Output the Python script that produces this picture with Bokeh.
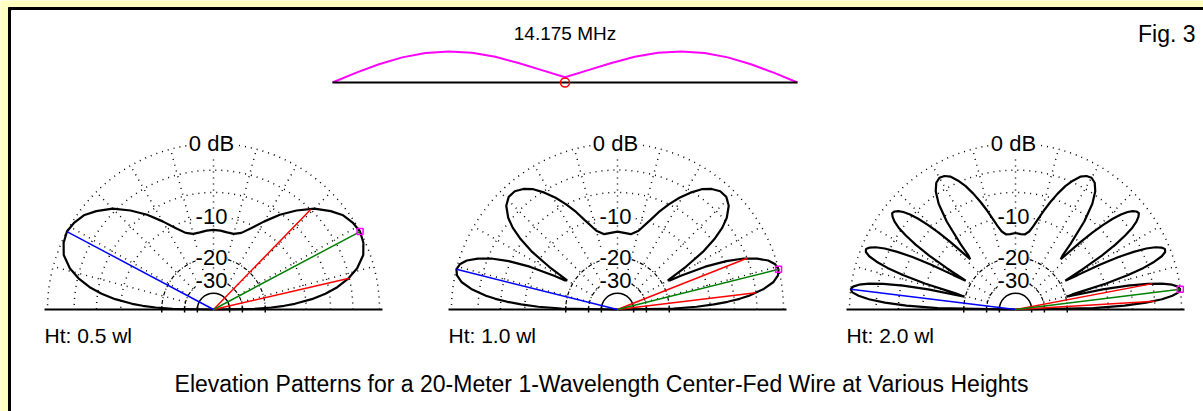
import numpy as np
from bokeh.plotting import figure
from bokeh.models import Range1d, ColumnDataSource, LabelSet
from bokeh.core.properties import value
from bokeh.embed import file_html
from bokeh.resources import INLINE

# ---------------- data ----------------
height_labels = ["Ht: 0.5 wl", "Ht: 1.0 wl", "Ht: 2.0 wl"]
freq_label = "14.175 MHz"
fig_label = "Fig. 3"
title_text = "Elevation Patterns for a 20-Meter 1-Wavelength Center-Fed Wire at Various Heights"

# grid rings (dB) and labelled rings
ring_db = [0, -3, -6, -10, -20, -30, -40]
tick_db = [-20, -30, -40]
ring_label_db = [0, -10, -20, -30]
ring_label_txt = ["0 dB", "-10", "-20", "-30"]
spoke_deg = [15, 30, 45, 60, 75, 90, 105, 120, 135, 150, 165]

# elevation patterns, 0..90 deg (pattern is symmetric about 90 deg), normalised dB
ang_05 = [0, 1, 2, 3, 4, 6, 8, 10, 13, 16, 20, 24, 28, 32, 36, 40, 45, 50, 55, 60,
          65, 70, 75, 80, 85, 90]
db_05 = [-99, -24.0, -18.1, -14.6, -12.2, -8.9, -6.6, -4.9, -3.1, -1.8, -0.7, -0.2, 0.0,
         -0.2, -0.6, -1.4, -2.6, -4.3, -6.2, -8.4, -10.5, -12.2, -12.9, -12.9, -12.7, -12.6]

ang_10 = [0, 1, 2, 3, 4, 5, 6, 8, 10, 12, 14, 16, 18, 20, 22, 24, 26, 28, 29, 30, 31,
          32, 34, 36, 38, 40, 43, 46, 49, 52, 55, 58, 61, 64, 67, 70, 75, 80, 85, 90]
db_10 = [-99, -18.6, -12.7, -9.3, -7.0, -5.2, -3.9, -2.0, -0.8, -0.2, 0.0, -0.2, -0.8,
         -1.9, -3.4, -5.7, -9.1, -14.4, -17.5, -18.0, -15.3, -12.4, -8.2, -5.6, -3.8,
         -2.6, -1.5, -1.0, -1.0, -1.4, -2.1, -3.2, -4.5, -6.0, -7.7, -9.6, -12.2, -13.3,
         -13.2, -13.0]

ang_20 = [0, 1, 2, 3, 4, 5, 6, 7, 8, 9, 10, 11, 12, 13, 14, 15, 16, 17, 18, 19, 20, 21,
          22, 23, 24, 25, 26, 27, 28, 29, 30, 31, 32, 33, 34, 35, 36, 37, 38, 39, 40, 41,
          42, 43, 44, 45, 46, 47, 48, 49, 50, 52, 54, 56, 58, 60, 62, 64, 66, 68, 70, 72,
          74, 76, 78, 80, 83, 86, 90]
db_20 = [-99, -13.0, -7.2, -4.1, -2.1, -0.9, -0.2, 0.0, -0.2, -0.8, -1.9, -3.6, -6.3,
         -10.6, -19.7, -17.1, -9.7, -5.9, -3.6, -2.1, -1.1, -0.6, -0.5, -0.8, -1.4, -2.4,
         -4.0, -6.2, -9.5, -14.6, -18.2, -12.6, -8.4, -5.7, -3.9, -2.6, -1.8, -1.3, -1.0,
         -1.1, -1.4, -1.9, -2.7, -3.8, -5.3, -7.2, -9.7, -12.8, -15.4, -14.3, -11.4, -6.8,
         -4.1, -2.6, -1.8, -1.5, -1.6, -2.0, -2.8, -3.8, -5.1, -6.6, -8.2, -9.9, -11.5,
         -12.7, -13.5, -13.5, -13.3]

patterns = [(ang_05, db_05), (ang_10, db_10), (ang_20, db_20)]
max_ang = [28, 14, 7]          # angle of maximum (green line)
bw_lo = [13.0, 6.9, 3.4]       # -3 dB points (red lines)
bw_hi = [45.8, 21.6, 10.7]

# antenna current along the wire (position in wavelengths, relative magnitude)
wire_pos = [-0.5, -0.45, -0.4, -0.35, -0.3, -0.25, -0.2, -0.15, -0.1, -0.05, 0.0,
            0.05, 0.1, 0.15, 0.2, 0.25, 0.3, 0.35, 0.4, 0.45, 0.5]
wire_cur = [0.0, 0.31, 0.59, 0.81, 0.95, 1.0, 0.96, 0.83, 0.63, 0.40, 0.17,
            0.40, 0.63, 0.83, 0.96, 1.0, 0.95, 0.81, 0.59, 0.31, 0.0]

# ---------------- layout ----------------
W, H = 1203, 411


def Y(py):
    return H - py


R = 166.0
CX = [213, 617, 1015]
CY = Y(309)
FONT = value("Liberation Sans")


def rad(db):
    return R * 0.89 ** (-np.asarray(db, dtype=float) / 2.0)


p = figure(width=W, height=H, x_range=Range1d(0, W), y_range=Range1d(0, H),
           output_backend="svg", toolbar_location=None, min_border=0)
p.axis.visible = False
p.grid.visible = False
p.outline_line_color = None
p.background_fill_color = "#FFFFC0"
p.border_fill_color = "#FFFFC0"

# frame
p.quad(left=[8], right=[1220], top=[Y(7)], bottom=[-20], color="black")
p.quad(left=[11], right=[1220], top=[Y(10)], bottom=[-20], color="white")

for k in range(3):
    cx = CX[k]
    # rings
    for db in ring_db:
        r = float(rad(db))
        if db == -40:
            dash, lw = "solid", 1.5
        elif db in (-20, -30):
            dash, lw = "4 2 1 2", 1.2
        else:
            dash, lw = "1 5", 1.5
        p.arc(x=cx, y=CY, radius=r, start_angle=0, end_angle=np.pi,
              line_color="black", line_width=lw, line_dash=dash)
    for db in tick_db:
        r = float(rad(db))
        p.segment(x0=[cx - r, cx + r], y0=[CY - 3, CY - 3], x1=[cx - r, cx + r],
                  y1=[CY + 3, CY + 3], line_color="black", line_width=1.5)
    # spokes
    r_in = float(rad(-30))
    t = np.radians(spoke_deg)
    p.segment(x0=cx + r_in * np.cos(t), y0=CY + r_in * np.sin(t),
              x1=cx + R * np.cos(t), y1=CY + R * np.sin(t),
              line_color="black", line_width=1.5, line_dash="1 5")
    # baseline
    p.line(x=[cx - 169, cx + 169], y=[CY, CY], line_color="black", line_width=2)

    # ring labels
    src = ColumnDataSource(dict(x=[cx] * len(ring_label_db),
                                y=[CY + float(rad(d)) for d in ring_label_db],
                                t=ring_label_txt))
    p.add_layout(LabelSet(x="x", y="y", text="t", source=src, text_align="center",
                          text_baseline="middle", text_font=FONT,
                          text_font_size="22px", text_color="black",
                          background_fill_color="white", x_offset=-2))

    # pattern
    ang, db = patterns[k]
    full_ang = list(ang) + [180 - a for a in reversed(ang[:-1])]
    full_db = list(db) + list(reversed(db[:-1]))
    th = np.radians(full_ang)
    rr = rad(full_db)
    p.line(x=cx + rr * np.cos(th), y=CY + rr * np.sin(th), line_color="black",
           line_width=2.2)

    # red -3 dB lines
    r3 = float(rad(-3))
    for a in (bw_lo[k], bw_hi[k]):
        ta = np.radians(a)
        p.line(x=[cx, cx + r3 * np.cos(ta)], y=[CY, CY + r3 * np.sin(ta)],
               line_color="red", line_width=1.5)
    # green max line, blue mirrored line
    tm = np.radians(max_ang[k])
    p.line(x=[cx, cx + R * np.cos(tm)], y=[CY, CY + R * np.sin(tm)],
           line_color="#008000", line_width=1.5)
    tb = np.radians(180 - max_ang[k])
    p.line(x=[cx, cx + R * np.cos(tb)], y=[CY, CY + R * np.sin(tb)],
           line_color="blue", line_width=1.5)
    p.scatter(x=[cx + R * np.cos(tm)], y=[CY + R * np.sin(tm)], marker="square",
              size=6, fill_color=None, line_color="#FF00FF", line_width=1.5)

    # height label
    p.text(x=[cx - 169], y=[Y(335)], text=[height_labels[k]], text_font=FONT,
           text_font_size="21px", text_align="left", text_baseline="middle",
           text_color="black")

# antenna sketch
WX0, WX1, WY = 332, 797, Y(82)
wc = (WX0 + WX1) / 2.0
wl = WX1 - WX0
p.line(x=wc + np.asarray(wire_pos) * wl, y=WY + np.asarray(wire_cur) * 31,
       line_color="#FF00FF", line_width=2)
p.line(x=[WX0, WX1], y=[WY, WY], line_color="black", line_width=2)
p.scatter(x=[wc], y=[WY], marker="circle", size=9, fill_color=None,
          line_color="red", line_width=1.5)

p.text(x=[wc], y=[Y(33)], text=[freq_label], text_font=FONT, text_font_size="19px",
       text_align="center", text_baseline="middle", text_color="black")
p.text(x=[1195], y=[Y(33)], text=[fig_label], text_font=FONT, text_font_size="23px",
       text_align="right", text_baseline="middle", text_color="black")
p.text(x=[601], y=[Y(383)], text=[title_text], text_font=FONT, text_font_size="23px",
       text_align="center", text_baseline="middle", text_color="black")

open("out.html", "w").write(file_html(p, INLINE))
